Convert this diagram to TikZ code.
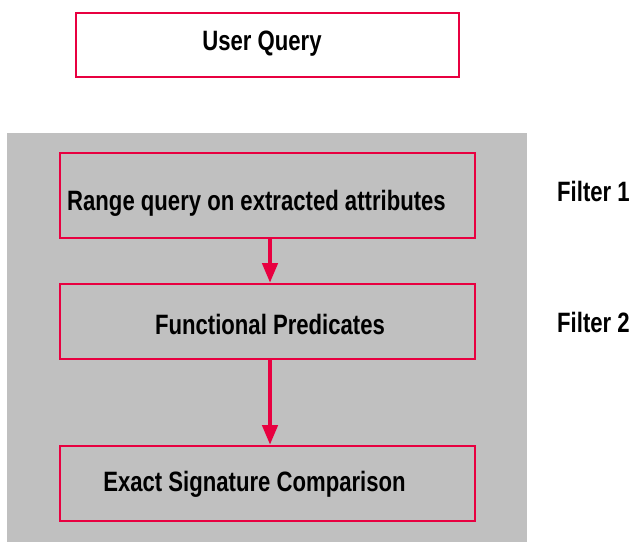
\documentclass[tikz,border=0pt]{standalone}
\usepackage{fontspec}
\setmainfont{Liberation Sans}
\usetikzlibrary{arrows.meta}
\definecolor{boxred}{RGB}{232,0,64}
\definecolor{panelgray}{RGB}{192,192,192}
\newcommand{\narrowtxt}[1]{\scalebox{0.79}[1]{#1}}
\begin{document}
\begin{tikzpicture}[x=1pt,y=-1pt,
  stagebox/.style={draw=boxred,line width=2pt,minimum width=415pt,anchor=north west,inner sep=0pt},
  flowarrow/.style={draw=boxred,line width=4.5pt,-{Triangle[length=20pt,width=15pt]}},
  txt/.style={font=\fontsize{28}{30}\selectfont\bfseries,inner sep=0pt},
  lbl/.style={txt,anchor=west}]
\useasboundingbox (0,0) rectangle (631,542);
\fill[panelgray] (7,133) rectangle (527,542);
\node[stagebox,fill=white,minimum width=383pt,minimum height=64pt] (uq) at (75,12) {};
\node[stagebox,fill=panelgray,minimum height=85pt] (f1) at (59,152) {};
\node[stagebox,fill=panelgray,minimum height=75pt] (f2) at (59,283) {};
\node[stagebox,fill=panelgray,minimum height=75pt] (f3) at (59,445) {};
\node[txt] (t0) at (262,44) {\narrowtxt{User Query}};
\node[txt] (t1) at (256.5,203) {\narrowtxt{Range query on extracted attributes}};
\node[txt] (t2) at (270,324) {\narrowtxt{Functional Predicates}};
\node[txt] (t3) at (254.5,484) {\narrowtxt{Exact Signature Comparison}};
\draw[flowarrow] (f1.south -| 270,0) -- (f2.north -| 270,0);
\draw[flowarrow] (f2.south -| 270,0) -- (f3.north -| 270,0);
\node[lbl] (l1) at (557,191) {\narrowtxt{Filter 1}};
\node[lbl] (l2) at (557,322) {\narrowtxt{Filter 2}};
\end{tikzpicture}
\end{document}
